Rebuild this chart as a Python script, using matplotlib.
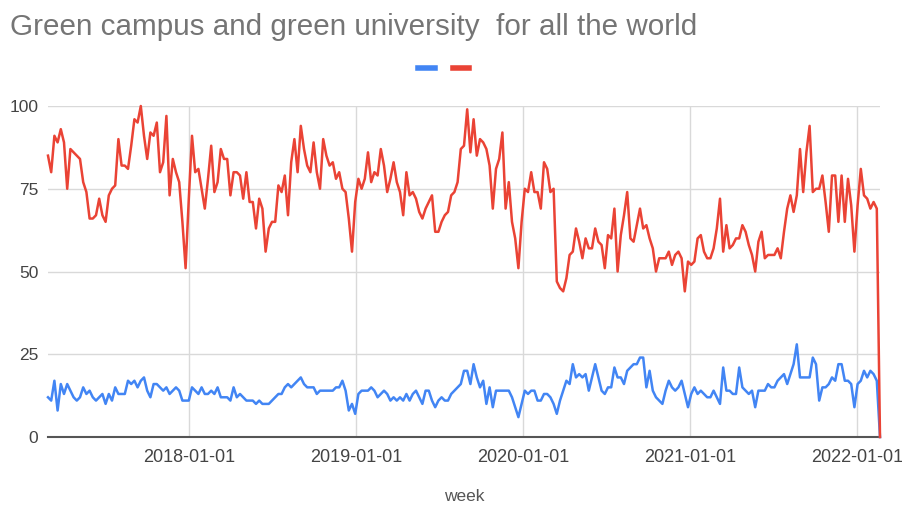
import numpy as np
import pandas as pd
import matplotlib
matplotlib.use("Agg")
import matplotlib.pyplot as plt
import matplotlib.dates as mdates
from matplotlib.lines import Line2D

plt.rcParams['font.family'] = ['Liberation Sans', 'DejaVu Sans']

title = "Green campus and green university  for all the world"
weeks = pd.date_range("2017-02-26", periods=261, freq="7D")

# red series (weekly)
red = [85, 80, 91, 89, 93, 89, 75, 87, 86, 85,
       84, 77, 74, 66, 66, 67, 72, 67, 65, 73,
       75, 76, 90, 82, 82, 81, 88, 96, 95, 100,
       91, 84, 92, 91, 95, 80, 83, 97, 73, 84,
       80, 77, 65, 51, 72, 91, 80, 81, 75, 69,
       78, 88, 74, 77, 87, 84, 84, 73, 80, 80,
       79, 72, 80, 71, 71, 63, 72, 69, 56, 63,
       65, 65, 76, 74, 79, 67, 83, 90, 80, 94,
       87, 82, 80, 89, 80, 75, 90, 85, 82, 83,
       78, 80, 75, 74, 66, 56, 71, 78, 75, 78,
       86, 77, 80, 79, 87, 82, 74, 78, 83, 77,
       74, 67, 80, 73, 74, 72, 68, 66, 69, 71,
       73, 62, 62, 65, 67, 68, 73, 74, 77, 87,
       88, 99, 86, 96, 85, 90, 89, 87, 82, 69,
       81, 84, 92, 69, 77, 65, 60, 51, 65, 75,
       74, 80, 74, 74, 69, 83, 81, 74, 75, 47,
       45, 44, 48, 55, 56, 63, 59, 54, 60, 57,
       57, 63, 59, 58, 51, 61, 60, 69, 50, 61,
       67, 74, 60, 59, 64, 69, 63, 64, 60, 57,
       50, 54, 54, 54, 56, 52, 55, 56, 54, 44,
       53, 52, 53, 60, 61, 56, 54, 54, 57, 63,
       72, 56, 64, 57, 58, 60, 60, 64, 62, 58,
       55, 50, 59, 62, 54, 55, 55, 55, 57, 54,
       62, 69, 73, 68, 73, 87, 74, 86, 94, 74,
       75, 75, 79, 71, 62, 79, 79, 65, 79, 65,
       78, 70, 56, 70, 81, 73, 72, 69, 71, 69,
       0]

# blue series (weekly)
blue = [12, 11, 17, 8, 16, 13, 16, 14, 12, 11,
        12, 15, 13, 14, 12, 11, 12, 13, 10, 13,
        11, 15, 13, 13, 13, 17, 16, 17, 15, 17,
        18, 14, 12, 16, 16, 15, 14, 15, 13, 14,
        15, 14, 11, 11, 11, 15, 14, 13, 15, 13,
        13, 14, 13, 15, 12, 12, 12, 11, 15, 12,
        13, 12, 11, 11, 11, 10, 11, 10, 10, 10,
        11, 12, 13, 13, 15, 16, 15, 16, 17, 18,
        16, 15, 15, 15, 13, 14, 14, 14, 14, 14,
        15, 15, 17, 14, 8, 10, 7, 13, 14, 14,
        14, 15, 14, 12, 13, 14, 13, 11, 12, 11,
        12, 11, 13, 11, 13, 14, 12, 10, 14, 14,
        11, 9, 11, 12, 11, 11, 13, 14, 15, 16,
        20, 20, 16, 22, 18, 15, 17, 10, 15, 9,
        14, 14, 14, 14, 14, 12, 9, 6, 10, 14,
        13, 14, 14, 11, 11, 13, 13, 12, 10, 7,
        11, 14, 17, 16, 22, 18, 19, 18, 19, 14,
        18, 22, 18, 14, 13, 15, 15, 21, 18, 18,
        16, 20, 21, 22, 22, 24, 24, 15, 20, 14,
        12, 11, 10, 14, 17, 15, 14, 15, 17, 13,
        9, 13, 15, 13, 14, 13, 12, 12, 14, 12,
        10, 21, 14, 14, 13, 13, 21, 15, 14, 13,
        14, 9, 14, 14, 14, 16, 15, 15, 17, 18,
        19, 16, 19, 22, 28, 18, 18, 18, 18, 24,
        22, 11, 15, 15, 16, 18, 17, 22, 22, 17,
        17, 16, 9, 16, 17, 20, 18, 20, 19, 17,
        0]

year_ticks = pd.to_datetime(["2018-01-01", "2019-01-01", "2020-01-01",
                             "2021-01-01", "2022-01-01"])
y_ticks = [0, 25, 50, 75, 100]

blue_c = "#4285F4"
red_c = "#EA4335"

fig = plt.figure(figsize=(9.03, 5.07), dpi=100)
ax = fig.add_axes([48/903, 1-437/507, 832/903, 331/507])

ax.plot(weeks, blue, color=blue_c, lw=1.8, clip_on=False, zorder=3)
ax.plot(weeks, red, color=red_c, lw=1.8, clip_on=False, zorder=4)

ax.set_xlim(weeks[0], weeks[-1])
ax.set_ylim(0, 100)
ax.set_xticks(year_ticks)
ax.xaxis.set_major_formatter(mdates.DateFormatter("%Y-%m-%d"))
ax.set_yticks(y_ticks)
ax.tick_params(axis='x', length=0, pad=9, labelsize=13, labelcolor="#444444")
ax.tick_params(axis='y', length=0, pad=7, labelsize=12.5, labelcolor="#444444")
ax.grid(True, color="#d9d9d9", lw=1)
ax.set_axisbelow(True)
for s in ["top", "right", "left"]:
    ax.spines[s].set_visible(False)
ax.spines["bottom"].set_color("#555555")
ax.spines["bottom"].set_linewidth(1.5)
ax.spines["bottom"].set_zorder(2)

ax.set_xlabel("week", fontsize=12.5, color="#555555", labelpad=16)

fig.text(10/903, 1-27/507, title, fontsize=21.3, color="#757575", va="center")

handles = [Line2D([], [], color=blue_c, lw=4), Line2D([], [], color=red_c, lw=4)]
fig.legend(handles, [" ", " "], loc="center", bbox_to_anchor=(447/903, 1-69/507),
           ncol=2, frameon=False, handlelength=1.2, handletextpad=0.2,
           columnspacing=0.8, fontsize=10)

fig.savefig("out.png", dpi=100)
